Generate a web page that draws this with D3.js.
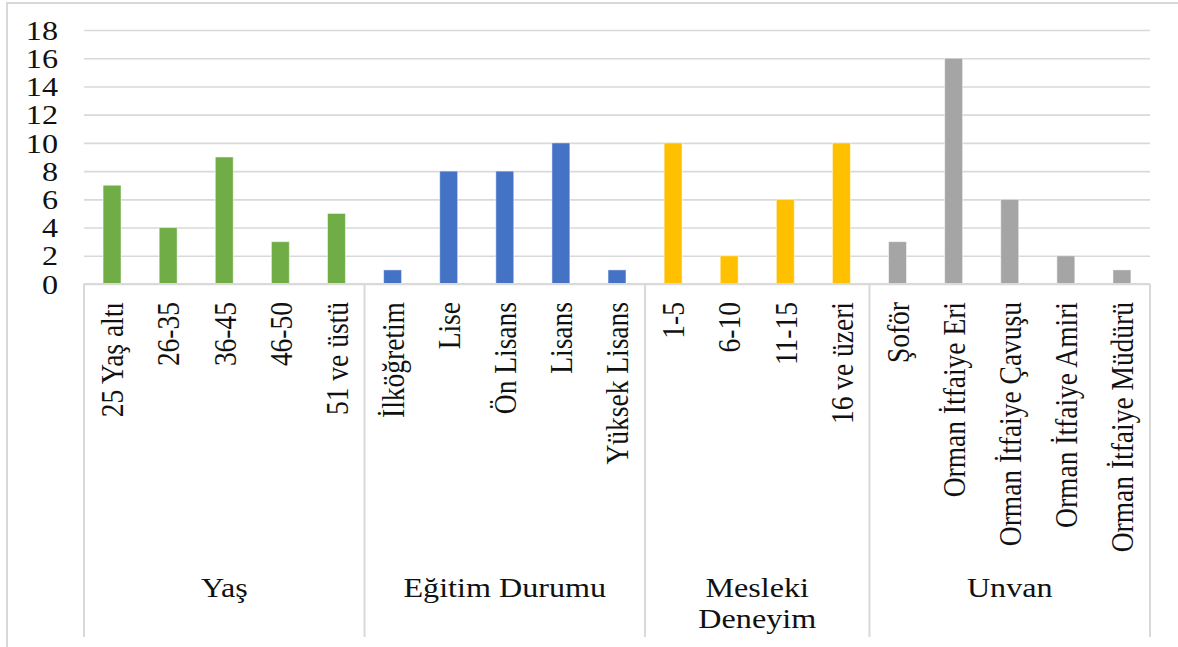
<!DOCTYPE html>
<html>
<head>
<meta charset="utf-8">
<script src="https://cdn.jsdelivr.net/npm/d3@7"></script>
<style>
  body { margin: 0; background: #fff; }
  text { font-family: "Liberation Serif", "Times New Roman", serif; fill: #111; }
</style>
</head>
<body>
<div id="chart"></div>
<script>
// data
const groupNames = ["Yaş", "Eğitim Durumu", "Mesleki Deneyim", "Unvan"]
const groupLines = [["Yaş"], ["Eğitim Durumu"], ["Mesleki", "Deneyim"], ["Unvan"]]
const groupColors = ["#70AD47", "#4472C4", "#FFC000", "#A5A5A5"]
const categories = [
	"25 Yaş altı", "26-35", "36-45", "46-50", "51 ve üstü",
	"İlköğretim", "Lise", "Ön Lisans", "Lisans", "Yüksek Lisans",
	"1-5", "6-10", "11-15", "16 ve üzeri",
	"Şoför", "Orman İtfaiye Eri", "Orman İtfaiye Çavuşu", "Orman İtfaiye Amiri", "Orman İtfaiye Müdürü"
]
const categoryGroup = [
	"Yaş", "Yaş", "Yaş", "Yaş", "Yaş",
	"Eğitim Durumu", "Eğitim Durumu", "Eğitim Durumu", "Eğitim Durumu", "Eğitim Durumu",
	"Mesleki Deneyim", "Mesleki Deneyim", "Mesleki Deneyim", "Mesleki Deneyim",
	"Unvan", "Unvan", "Unvan", "Unvan", "Unvan"
]
const values = [7, 4, 9, 3, 5, 1, 8, 8, 10, 1, 10, 2, 6, 10, 3, 16, 6, 2, 1]
const yTicks = [0, 2, 4, 6, 8, 10, 12, 14, 16, 18]

const width = 1178, height = 647
const plotLeft = 84, plotRight = 1150, plotTop = 30, plotBottom = 284
const fontSize = 27.5
const sx = 1.17   // the picture is stretched sideways

const svg = d3.select("#chart").append("svg")
	.attr("width", width)
	.attr("height", height)

// outer frame
svg.append("rect")
	.attr("x", 7).attr("y", 3)
	.attr("width", width).attr("height", height)
	.attr("fill", "none")
	.attr("stroke", "#d9d9d9")
	.attr("stroke-width", 2)

const x = d3.scaleBand()
	.domain(categories)
	.range([plotLeft, plotRight])
	.paddingInner(0.68)
	.paddingOuter(0.34)

const y = d3.scaleLinear()
	.domain([0, 18])
	.range([plotBottom, plotTop])

const color = d3.scaleOrdinal().domain(groupNames).range(groupColors)

// gridlines
const grid = svg.append("g")
	.attr("transform", `translate(${plotLeft},0)`)
	.call(d3.axisLeft(y).tickValues(yTicks).tickSize(-(plotRight - plotLeft)).tickFormat(""))
grid.select(".domain").remove()
grid.selectAll("line").attr("stroke", "#d9d9d9").attr("stroke-width", 1.6)

// y tick labels
svg.append("g").selectAll("text")
	.data(yTicks)
	.join("text")
	.attr("transform", d => `translate(58,${y(d)}) scale(${sx},1)`)
	.attr("text-anchor", "end")
	.attr("dy", "0.35em")
	.attr("font-size", fontSize)
	.text(d => d)

// bars
svg.append("g").selectAll("rect")
	.data(categories)
	.join("rect")
	.attr("x", d => x(d))
	.attr("y", (d, i) => y(values[i]))
	.attr("width", x.bandwidth())
	.attr("height", (d, i) => y(0) - y(values[i]))
	.attr("fill", (d, i) => color(categoryGroup[i]))
	.attr("stroke", "#fff")
	.attr("stroke-opacity", 0.5)
	.attr("stroke-width", 1)

// category axis line
svg.append("line")
	.attr("x1", plotLeft).attr("x2", plotRight)
	.attr("y1", y(0)).attr("y2", y(0))
	.attr("stroke", "#d9d9d9").attr("stroke-width", 2)

// group separators
const step = x.step()
let start = 0
const groupSpans = groupNames.map(g => {
	const n = categoryGroup.filter(c => c === g).length
	const span = { name: g, x0: plotLeft + start * step, x1: plotLeft + (start + n) * step }
	start += n
	return span
})
const seps = [plotLeft].concat(groupSpans.map(s => s.x1))
svg.append("g").selectAll("line")
	.data(seps)
	.join("line")
	.attr("x1", d => d).attr("x2", d => d)
	.attr("y1", y(0)).attr("y2", 637)
	.attr("stroke", "#d9d9d9").attr("stroke-width", 2)

// rotated category labels
svg.append("g").selectAll("text")
	.data(categories)
	.join("text")
	.attr("transform", d => `translate(${x(d) + x.bandwidth() / 2},302) scale(${sx},1) rotate(-90)`)
	.attr("text-anchor", "end")
	.attr("dy", "0.35em")
	.attr("font-size", fontSize)
	.text(d => d)

// group labels
const gl = svg.append("g").selectAll("text")
	.data(groupSpans)
	.join("text")
	.attr("transform", d => `translate(${(d.x0 + d.x1) / 2},597) scale(${sx},1)`)
	.attr("text-anchor", "middle")
	.attr("font-size", fontSize)
gl.selectAll("tspan")
	.data((d, i) => groupLines[i])
	.join("tspan")
	.attr("x", 0)
	.attr("dy", (d, i) => i === 0 ? 0 : 31)
	.text(d => d)
</script>
</body>
</html>
